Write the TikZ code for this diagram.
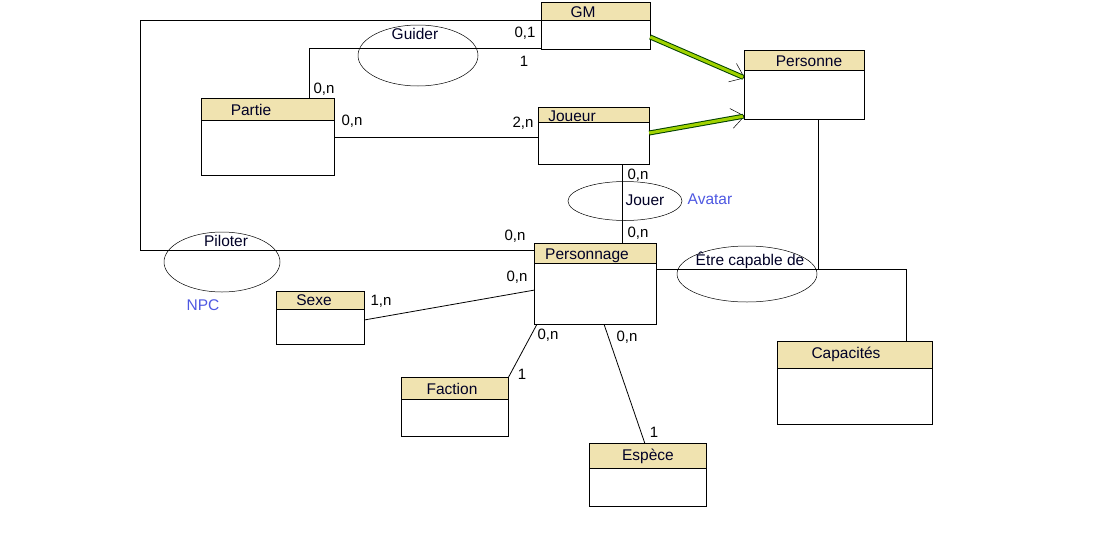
\documentclass[tikz,border=0pt]{standalone}
\usepackage{fontspec}
\setmainfont{Liberation Sans}
\usetikzlibrary{shapes.geometric,fit,arrows.meta}

\definecolor{hdrfill}{RGB}{240,227,176}
\definecolor{linkgreen}{RGB}{160,210,0}
\definecolor{notecol}{RGB}{78,88,226}

\tikzset{
  x=1pt, y=-1pt,
  ink/.style={line width=0.8pt, draw=black},
  wire/.style={line width=0.8pt, draw=black},
  relation/.style={ellipse, draw, line width=0.5pt, inner sep=0pt},
  lbl/.style={font=\fontsize{15.5}{17}\selectfont, inner sep=0pt, text=black!85!blue},
  card/.style={font=\fontsize{15}{17}\selectfont, inner sep=0pt},
  note/.style={font=\fontsize{15.5}{17}\selectfont, inner sep=0pt, text=notecol},
  genline/.style={line width=5pt, draw=black!75!green},
  genfill/.style={line width=3pt, draw=linkgreen},
  gentip/.style={line width=0.5pt, draw=black, -{Straight Barb[length=13pt,width=20pt,line width=0.5pt]}},
}

% entity box: name, left, top, right, bottom, header bottom, text x, text y, title
\newcommand\entitybox[9]{%
  \path (#2,#3) coordinate (#1-nw) (#4,#5) coordinate (#1-se);
  \node[fit=(#1-nw)(#1-se), inner sep=0pt] (#1) {};
  \fill[hdrfill] (#1.north west) rectangle (#4,#6);
  \draw[ink] (#1.west |- 0,#6) -- (#1.east |- 0,#6);
  \draw[ink] (#1.north west) rectangle (#1.south east);
  \node[lbl] (#1-title) at (#7,#8) {#9};
}

\begin{document}
\begin{tikzpicture}
\useasboundingbox (0,0) rectangle (1096,549);
\fill[white] (0,0) rectangle (1096,549);

% entities
\entitybox{gm}{542}{3}{650}{49}{20}{583}{12}{GM}
\entitybox{personne}{745}{51}{864}{119}{70}{809}{61}{Personne}
\entitybox{partie}{202}{99}{334}{175}{120}{251}{110}{Partie}
\entitybox{joueur}{539}{108}{649}{164}{122}{572}{116}{Joueur}
\entitybox{perso}{535}{244}{656}{324}{263}{587}{256}{Personnage}
\entitybox{sexe}{277}{292}{364}{344}{309}{314}{300}{Sexe}
\entitybox{faction}{402}{378}{508}{436}{399}{452}{389}{Faction}
\entitybox{espece}{590}{444}{706}{506}{468}{648}{456}{Espèce}
\entitybox{capa}{778}{342}{932}{424}{368}{846}{354}{Capacités}

% corner points of the routed connectors
\coordinate (c-outer-top) at (140,20);
\coordinate (c-outer-bot) at (140,250);
\coordinate (c-guider) at (309,48);
\coordinate (c-capa-mid) at (906,269);
\coordinate (c-pers-join) at (818,269);

% connectors
\draw[wire] (gm.west |- 0,20) -- (c-outer-top) -- (c-outer-bot) -- (perso.west |- 0,250);
\draw[wire] (gm.west |- 0,48) -- (c-guider) -- (partie.north -| c-guider);
\draw[wire] (partie.east |- 0,137) -- (joueur.west |- 0,137);
\draw[wire] (joueur.south -| 622,0) -- (perso.north -| 622,0);
\draw[wire] (sexe.east |- 0,320) -- (perso.west |- 0,290);
\draw[wire] (faction.north east) -- (perso.south -| 537,0);
\draw[wire] (perso.south -| 604,0) -- (espece.north -| 645,0);
\draw[wire] (perso.east |- 0,269) -- (c-capa-mid) -- (capa.north -| c-capa-mid);
\draw[wire] (personne.south -| c-pers-join) -- (c-pers-join);

% generalisation links towards Personne
\coordinate (g1a) at (gm.east |- 0,37);
\coordinate (g1b) at (personne.west |- 0,78);
\coordinate (g2a) at (joueur.east |- 0,133);
\coordinate (g2b) at (personne.west |- 0,116);
\draw[gentip] (g1a) -- (g1b);
\draw[gentip] (g2a) -- (g2b);
\draw[genline, shorten >=1.5pt] (g1a) -- (g1b);
\draw[genfill, shorten >=2pt] (g1a) -- (g1b);
\draw[genline, shorten >=1.5pt] (g2a) -- (g2b);
\draw[genfill, shorten >=2pt] (g2a) -- (g2b);

% relationships
\node[relation, minimum width=120pt, minimum height=61pt] (guider) at (418,55.5) {};
\node[lbl] (guider-t) at (415,34) {Guider};
\node[relation, minimum width=114pt, minimum height=39pt] (jouer) at (625,201) {};
\node[lbl] (jouer-t) at (645,200) {Jouer};
\node[relation, minimum width=116pt, minimum height=60pt] (piloter) at (222,262) {};
\node[lbl] (piloter-t) at (226,241) {Piloter};
\node[relation, minimum width=140pt, minimum height=56pt] (capable) at (747,274) {};
\node[lbl] (capable-t) at (750,260) {Être capable de};

% notes
\node[note] (npc) at (203,305) {NPC};
\node[note] (avatar) at (710,199) {Avatar};

% cardinalities
\node[card] (k1) at (525,33) {0,1};
\node[card] (k2) at (524,61) {1};
\node[card] (k3) at (324,89) {0,n};
\node[card] (k4) at (352,121) {0,n};
\node[card] (k5) at (523,123) {2,n};
\node[card] (k6) at (638,175) {0,n};
\node[card] (k7) at (638,233) {0,n};
\node[card] (k8) at (515,236) {0,n};
\node[card] (k9) at (517,277) {0,n};
\node[card] (k10) at (381,301) {1,n};
\node[card] (k11) at (548,335) {0,n};
\node[card] (k12) at (627,337) {0,n};
\node[card] (k13) at (522,374) {1};
\node[card] (k14) at (654,432) {1};
\end{tikzpicture}
\end{document}
